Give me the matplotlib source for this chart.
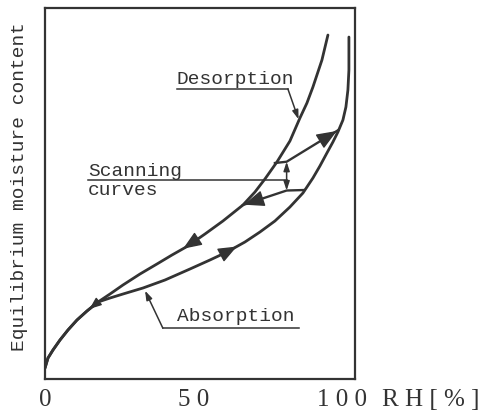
import numpy as np
import matplotlib.pyplot as plt

# RH [%] and moisture content (arbitrary scale 0-100)
desorption_rh = [0.0, 1.01, 2.69, 5.05, 7.74, 10.77, 14.14, 17.85, 21.89, 26.26,
                 31.99, 37.71, 42.76, 47.81, 53.87, 59.93, 66.67, 70.71, 74.07,
                 78.11, 82.49, 85.86, 88.22, 90.24, 93.27, 95.29]
desorption_mc = [2.96, 5.66, 7.82, 10.51, 13.21, 15.90, 18.33, 20.75, 22.91, 25.34,
                 28.30, 31.00, 33.42, 35.71, 39.08, 42.59, 46.90, 50.40, 53.91,
                 58.49, 64.15, 70.35, 74.39, 78.71, 85.98, 92.72]

absorption_rh = [0.0, 1.01, 2.69, 5.05, 7.74, 10.77, 14.14, 17.85, 21.89, 26.26,
                 33.00, 40.40, 48.82, 55.56, 61.28, 67.34, 72.39, 77.44, 82.49,
                 86.87, 90.24, 92.59, 94.95, 96.97, 98.65, 100.34, 101.35,
                 102.02, 102.36, 102.36]
absorption_mc = [2.96, 5.66, 7.82, 10.51, 13.21, 15.90, 18.33, 20.75, 21.83, 22.91,
                 24.53, 26.68, 29.65, 32.08, 34.23, 36.93, 39.62, 42.59, 46.36,
                 50.13, 54.18, 57.41, 60.92, 63.88, 66.58, 69.81, 73.32,
                 77.90, 83.29, 92.18]

# scanning curves: drying (absorption -> desorption), wetting (desorption -> absorption)
scan_dry_rh = [87.21, 81.38, 66.67]
scan_dry_mc = [50.94, 50.81, 46.90]
scan_wet_rh = [77.44, 81.38, 98.82]
scan_wet_mc = [58.22, 58.57, 67.12]

x_ticks = [0, 50, 100]
x_tick_labels = ["0", "5 0", "1 0 0"]

ink = "#333333"
mono = "Liberation Mono"
serif = "Liberation Serif"

fig = plt.figure(figsize=(4.88, 4.20), dpi=100)
ax = fig.add_axes([0.0922, 0.0976, 0.6352, 0.8833])
ax.set_xlim(0, 104.4)
ax.set_ylim(0, 100)

for sp in ax.spines.values():
    sp.set_color(ink)
    sp.set_linewidth(1.6)

curve_style = dict(color=ink, lw=2.0, solid_capstyle="round", solid_joinstyle="round")
ax.plot(desorption_rh, desorption_mc, **curve_style)
ax.plot(absorption_rh, absorption_mc, **curve_style)
ax.plot(scan_dry_rh, scan_dry_mc, color=ink, lw=1.7, solid_joinstyle="round")
ax.plot(scan_wet_rh, scan_wet_mc, color=ink, lw=1.7, solid_joinstyle="round")


def curve_arrow(xs, ys, x_tip, x_tail, size):
    xs = np.asarray(xs)
    ys = np.asarray(ys)
    order = np.argsort(xs, kind="stable")
    y_tip = np.interp(x_tip, xs[order], ys[order])
    y_tail = np.interp(x_tail, xs[order], ys[order])
    ax.annotate("", xy=(x_tip, y_tip), xytext=(x_tail, y_tail),
                arrowprops=dict(arrowstyle="-|>,head_length=0.55,head_width=0.22",
                                color=ink, lw=1.0, shrinkA=0, shrinkB=0,
                                mutation_scale=size))


curve_arrow(desorption_rh, desorption_mc, 15.0, 18.0, 13)
curve_arrow(desorption_rh, desorption_mc, 46.5, 51.0, 21)
curve_arrow(absorption_rh, absorption_mc, 64.6, 60.0, 21)
curve_arrow(scan_dry_rh, scan_dry_mc, 67.0, 71.0, 23)
curve_arrow(scan_wet_rh, scan_wet_mc, 98.3, 94.0, 23)

leader = dict(arrowstyle="-|>,head_length=0.6,head_width=0.2", color=ink,
              lw=1.1, shrinkA=0, shrinkB=0, mutation_scale=9)

# Desorption label
ax.text(44.4, 79.5, "Desorption", family=mono, fontsize=14, color=ink,
        ha="left", va="baseline")
ax.plot([44.4, 81.8], [78.2, 78.2], color=ink, lw=1.1)
ax.annotate("", xy=(85.4, 70.0), xytext=(81.8, 78.2), arrowprops=leader)

# Absorption label
ax.text(44.4, 15.6, "Absorption", family=mono, fontsize=14, color=ink,
        ha="left", va="baseline")
ax.plot([85.5, 39.7], [13.7, 13.7], color=ink, lw=1.1)
ax.annotate("", xy=(33.7, 23.8), xytext=(39.7, 13.7), arrowprops=leader)

# Scanning curves label
ax.text(14.5, 54.7, "Scanning", family=mono, fontsize=14, color=ink,
        ha="left", va="baseline")
ax.text(14.5, 49.6, "curves", family=mono, fontsize=14, color=ink,
        ha="left", va="baseline")
ax.plot([14.5, 81.38], [53.64, 53.64], color=ink, lw=1.1)
ax.annotate("", xy=(81.38, 58.57), xytext=(81.38, 53.64), arrowprops=leader)
ax.annotate("", xy=(81.38, 50.81), xytext=(81.38, 53.64), arrowprops=leader)

ax.set_xticks(x_ticks)
ax.set_xticklabels(x_tick_labels, family=serif, fontsize=18, color=ink)
ax.tick_params(axis="x", length=0, pad=7)
ax.tick_params(axis="y", left=False, labelleft=False)
ax.text(113.5, -0.026, "R H [ % ]", transform=ax.get_xaxis_transform(),
        family=serif, fontsize=18, color=ink, ha="left", va="top", clip_on=False)

ax.set_ylabel("Equilibrium moisture content", family=mono, fontsize=14,
              color=ink, labelpad=12)
ax.yaxis.set_label_coords(-0.055, 0.52)

fig.savefig("out.png", dpi=100)
